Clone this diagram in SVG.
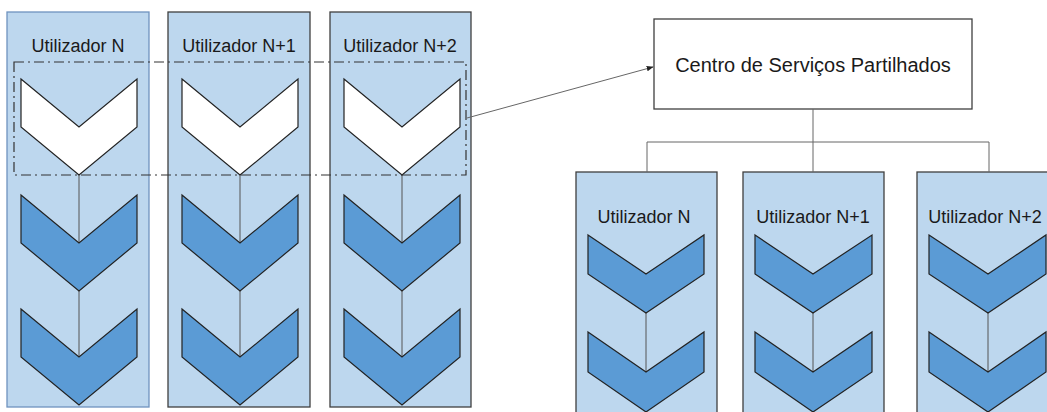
<svg xmlns="http://www.w3.org/2000/svg" width="1047" height="412" viewBox="0 0 1047 412">
  <defs>
    <style>
      .col { fill: #bdd7ee; stroke: #3f3f3f; stroke-width: 1.3; }
      .col-soft { fill: #bdd7ee; stroke: #6f93bf; stroke-width: 1.3; }
      .chev-w { fill: #ffffff; stroke: #222222; stroke-width: 1.2; stroke-linejoin: miter; }
      .chev-b { fill: #5b9bd5; stroke: #222222; stroke-width: 1.2; stroke-linejoin: miter; }
      .stem { stroke: #555555; stroke-width: 1; fill: none; }
      .lbl { font-family: "Liberation Sans", Arial, sans-serif; font-size: 18px; fill: #1a1a1a; text-anchor: middle; }
      .title { font-family: "Liberation Sans", Arial, sans-serif; font-size: 20px; fill: #1a1a1a; text-anchor: middle; }
      .box { fill: #ffffff; stroke: #3f3f3f; stroke-width: 1.3; }
      .link { stroke: #666666; stroke-width: 1; fill: none; }
      .sel { fill: none; stroke: #333333; stroke-width: 1.2; stroke-dasharray: 10 4 2 4; }
    </style>
    <marker id="arrow" viewBox="0 0 10 10" refX="9" refY="5" markerWidth="7" markerHeight="7" orient="auto" markerUnits="userSpaceOnUse">
      <path d="M0,1 L10,5 L0,9 z" fill="#222222"/>
    </marker>
  </defs>

  <!-- Left side: three independent user process columns -->
  <g id="col-left-n">
    <rect class="col-soft" x="7" y="12" width="142" height="395"/>
    <text class="lbl" x="78" y="52">Utilizador N</text>
    <line class="stem" x1="79" y1="175" x2="79" y2="357"/>
    <polygon class="chev-w" points="21,79 79,127 137,79 137,127 79,175 21,127"/>
    <polygon class="chev-b" points="21,195 79,243 137,195 137,243 79,291 21,243"/>
    <polygon class="chev-b" points="21,309 79,357 137,309 137,357 79,405 21,357"/>
  </g>
  <g id="col-left-n1">
    <rect class="col" x="168" y="12" width="142" height="395"/>
    <text class="lbl" x="239" y="52">Utilizador N+1</text>
    <line class="stem" x1="240" y1="175" x2="240" y2="357"/>
    <polygon class="chev-w" points="182,79 240,127 298,79 298,127 240,175 182,127"/>
    <polygon class="chev-b" points="182,195 240,243 298,195 298,243 240,291 182,243"/>
    <polygon class="chev-b" points="182,309 240,357 298,309 298,357 240,405 182,357"/>
  </g>
  <g id="col-left-n2">
    <rect class="col" x="330" y="12" width="141" height="395"/>
    <text class="lbl" x="400" y="52">Utilizador N+2</text>
    <line class="stem" x1="402" y1="175" x2="402" y2="357"/>
    <polygon class="chev-w" points="344,79 402,127 460,79 460,127 402,175 344,127"/>
    <polygon class="chev-b" points="344,195 402,243 460,195 460,243 402,291 344,243"/>
    <polygon class="chev-b" points="344,309 402,357 460,309 460,357 402,405 344,357"/>
  </g>

  <!-- Group of first steps that moves to the shared centre -->
  <g id="selection">
    <rect class="sel" x="14" y="62" width="452" height="113"/>
  </g>

  <!-- Shared services centre -->
  <g id="centro">
    <rect class="box" x="654" y="19" width="318" height="90"/>
    <text class="title" x="813" y="72">Centro de Serviços Partilhados</text>
  </g>

  <!-- Right side: user columns served by the centre -->
  <g id="col-right-n">
    <rect class="col" x="576" y="172" width="141" height="250"/>
    <text class="lbl" x="644" y="223">Utilizador N</text>
    <line class="stem" x1="646" y1="313" x2="646" y2="372"/>
    <polygon class="chev-b" points="588,235 646,274 704,235 704,274 646,313 588,274"/>
    <polygon class="chev-b" points="588,332 646,372 704,332 704,372 646,412 588,372"/>
  </g>
  <g id="col-right-n1">
    <rect class="col" x="743" y="172" width="141" height="250"/>
    <text class="lbl" x="813" y="223">Utilizador N+1</text>
    <line class="stem" x1="813" y1="313" x2="813" y2="372"/>
    <polygon class="chev-b" points="755,235 813,274 872,235 872,274 813,313 755,274"/>
    <polygon class="chev-b" points="755,332 813,372 872,332 872,372 813,412 755,372"/>
  </g>
  <g id="col-right-n2">
    <rect class="col" x="917" y="172" width="142" height="250"/>
    <text class="lbl" x="985" y="223">Utilizador N+2</text>
    <line class="stem" x1="988" y1="313" x2="988" y2="372"/>
    <polygon class="chev-b" points="929,235 988,274 1046,235 1046,274 988,313 929,274"/>
    <polygon class="chev-b" points="929,332 988,372 1046,332 1046,372 988,412 929,372"/>
  </g>

  <!-- Connectors -->
  <g id="connectors">
    <line class="link" x1="467" y1="118" x2="653" y2="67" marker-end="url(#arrow)"/>
    <polyline class="link" points="813,109 813,142"/>
    <polyline class="link" points="647,172 647,142 989,142 989,172"/>
    <line class="link" x1="813" y1="142" x2="813" y2="172"/>
  </g>
</svg>
